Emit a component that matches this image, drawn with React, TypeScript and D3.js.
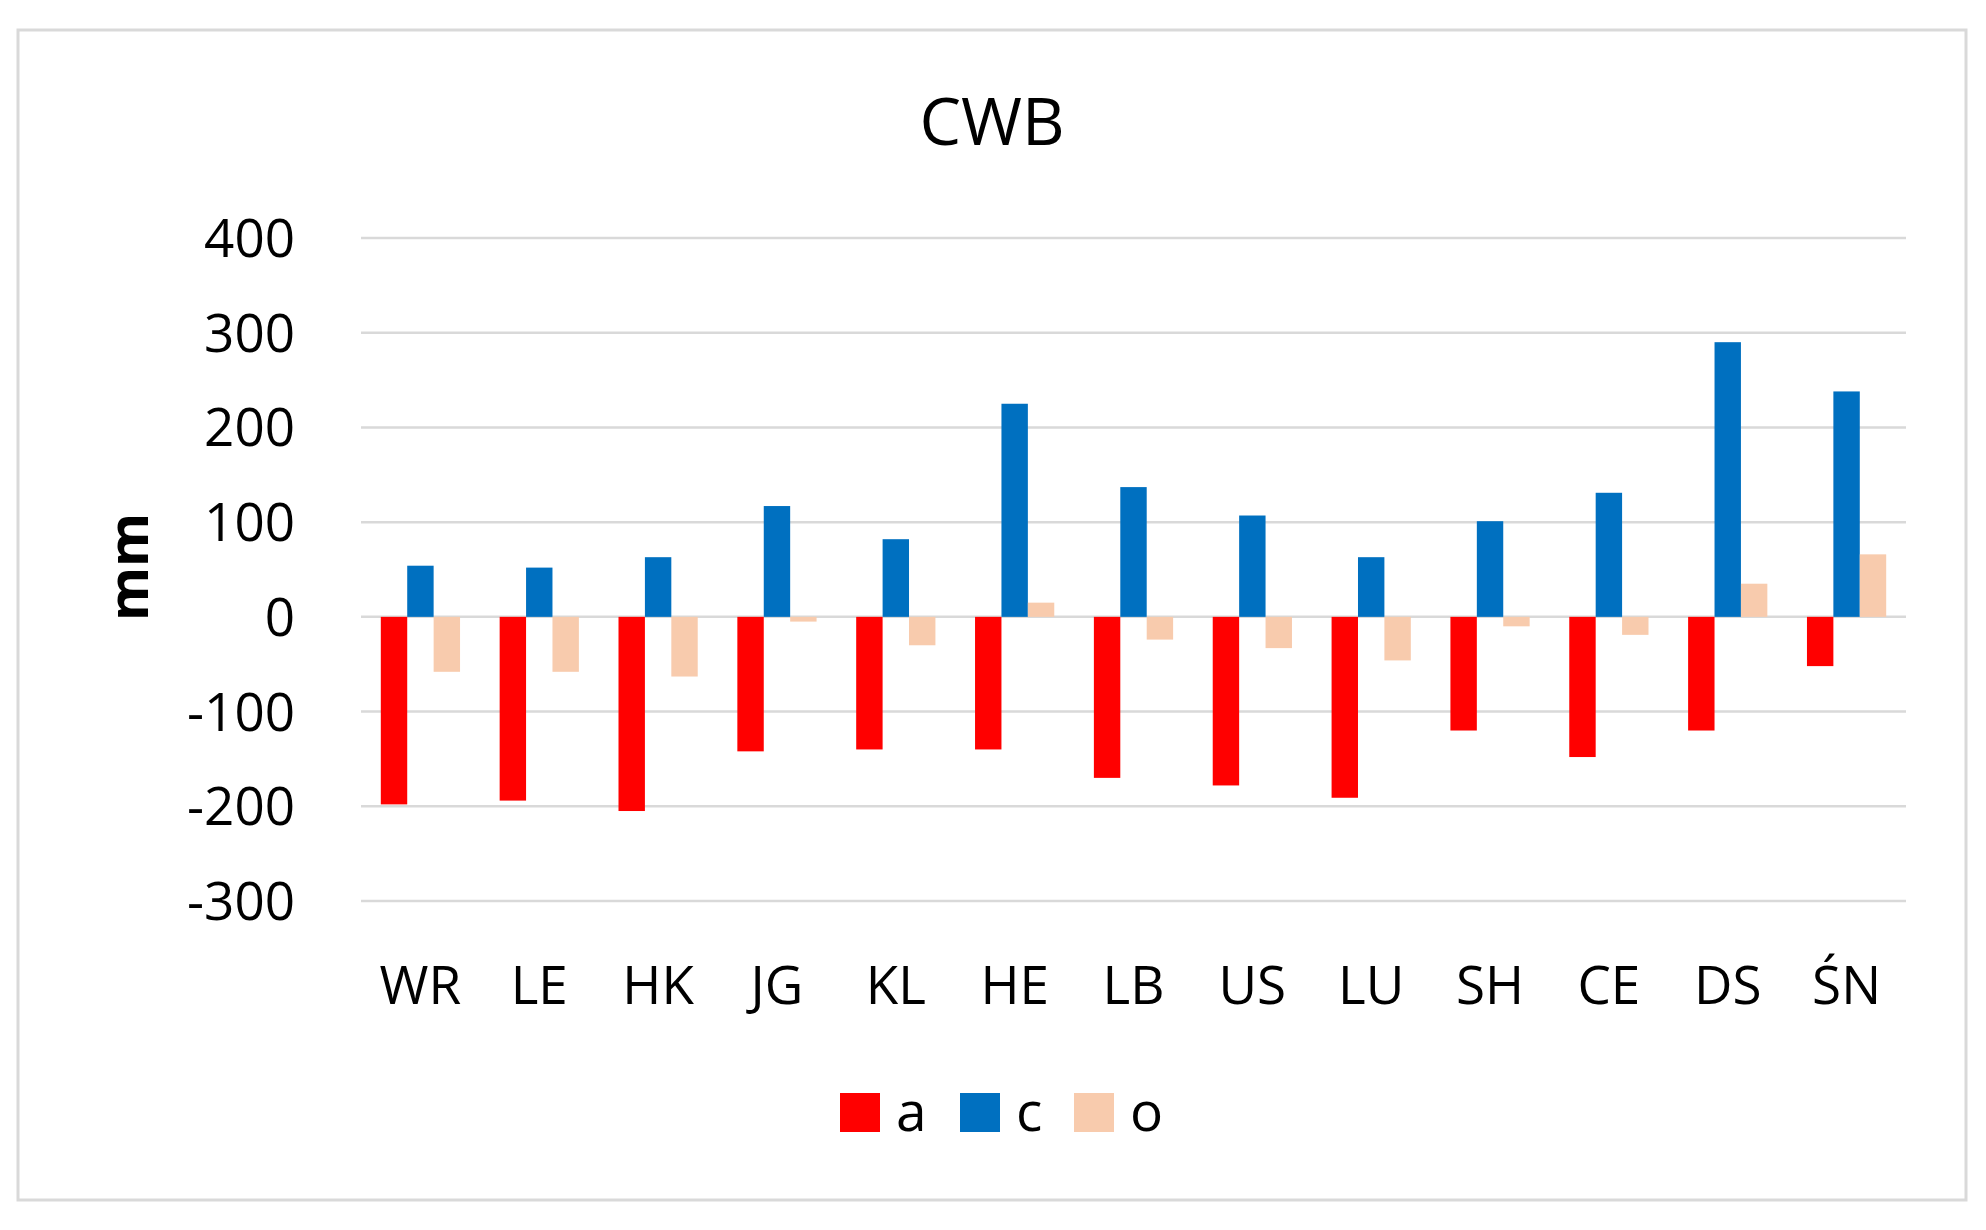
import React from "react";
import * as d3 from "d3";

const categories = ["WR", "LE", "HK", "JG", "KL", "HE", "LB", "US", "LU", "SH", "CE", "DS", "ŚN"];
const seriesNames = ["a", "c", "o"];
const seriesA = [-198, -194, -205, -142, -140, -140, -170, -178, -191, -120, -148, -120, -52];
const seriesC = [54, 52, 63, 117, 82, 225, 137, 107, 63, 101, 131, 290, 238];
const seriesO = [-58, -58, -63, -5, -30, 15, -24, -33, -46, -10, -19, 35, 66];
const colors = ["#FF0000", "#0070C0", "#F8CBAD"];
const yTicks = [400, 300, 200, 100, 0, -100, -200, -300];

const W = 1986;
const H = 1230;
const plot = { left: 361, right: 1906, top: 238, bottom: 901 };
const FONT = "'Open Sans', 'Noto Sans', sans-serif";

export default function App() {
  const series = [seriesA, seriesC, seriesO];
  const x = d3.scaleBand<string>().domain(categories).range([plot.left, plot.right]).paddingInner(0).paddingOuter(0);
  const y = d3.scaleLinear().domain([-300, 400]).range([plot.bottom, plot.top]);
  const bw = x.bandwidth();
  const barW = bw / 4.5;
  const inner = d3.scaleBand<number>().domain([0, 1, 2]).range([0.75 * barW, bw - 0.75 * barW]).padding(0);

  const legendX = [840, 960, 1074];
  return (
    <svg width={W} height={H} style={{ position: "fixed", left: 0, top: 0, background: "#fff" }} fontFamily={FONT}>
      <rect x={18} y={30} width={1948} height={1170} fill="#fff" stroke="#d9d9d9" strokeWidth={3} />
      <text x={992} y={145} textAnchor="middle" fontSize={66} fill="#000">CWB</text>
      {yTicks.map((t) => (
        <g key={t}>
          <line x1={plot.left} x2={plot.right} y1={y(t)} y2={y(t)} stroke="#d9d9d9" strokeWidth={2.5} />
          <text x={295} y={y(t) + 19} textAnchor="end" fontSize={53} fill="#000">{t}</text>
        </g>
      ))}
      {series.map((vals, si) => (
        <g key={si}>
          {vals.map((v, i) => (
            <rect
              key={i}
              x={(x(categories[i]) as number) + (inner(si) as number)}
              y={Math.min(y(v), y(0))}
              width={inner.bandwidth()}
              height={Math.abs(y(v) - y(0))}
              fill={colors[si]}
            />
          ))}
        </g>
      ))}
      {categories.map((c) => (
        <text key={c} x={(x(c) as number) + bw / 2} y={1004} textAnchor="middle" fontSize={53} fill="#000">{c}</text>
      ))}
      <text transform={`translate(148, 567) rotate(-90)`} textAnchor="middle" fontSize={55} fontWeight="bold" fill="#000">mm</text>
      {seriesNames.map((n, i) => (
        <g key={n}>
          <rect x={legendX[i]} y={1093} width={40} height={39} fill={colors[i]} />
          <text x={legendX[i] + 56} y={1131} fontSize={55} fill="#000">{n}</text>
        </g>
      ))}
    </svg>
  );
}
